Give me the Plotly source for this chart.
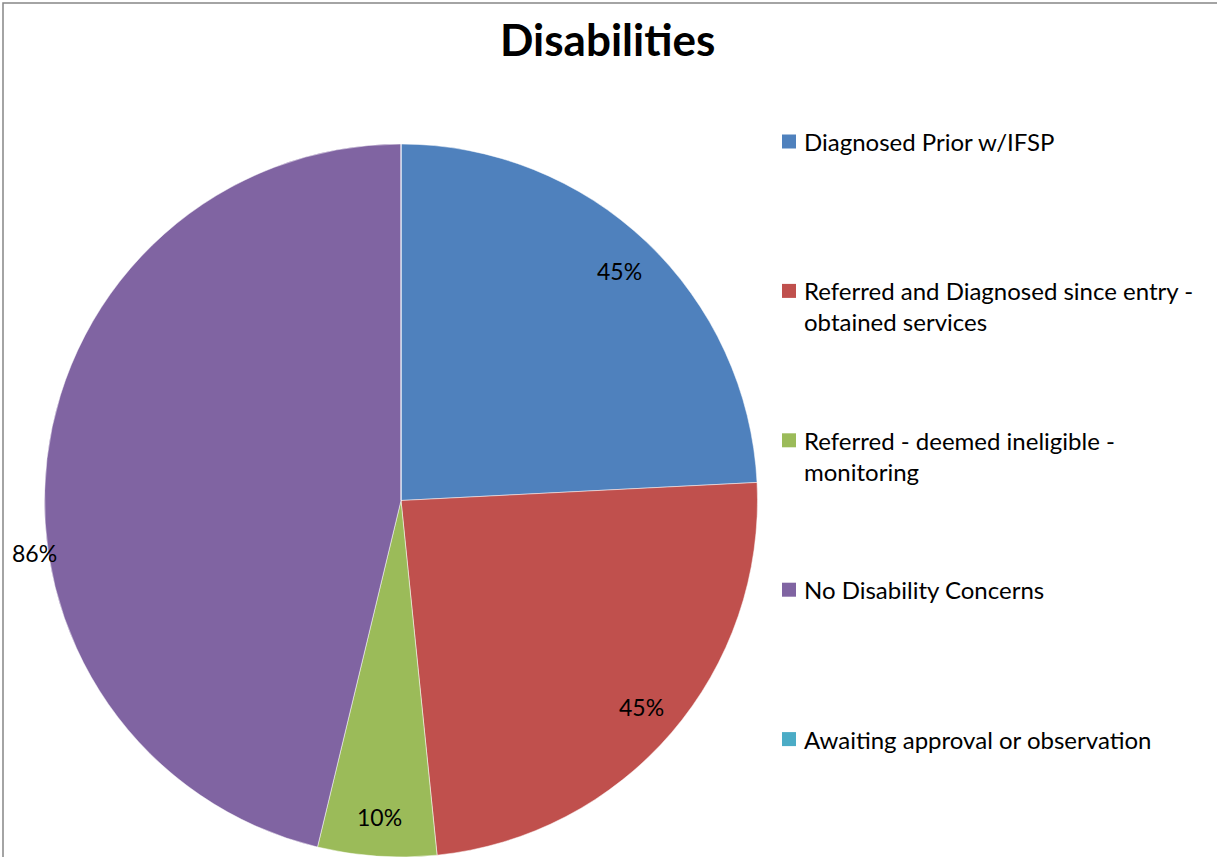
import math
import plotly.graph_objects as go

# Disability status breakdown
categories = [
    "Diagnosed Prior w/IFSP",
    "Referred and Diagnosed since entry -<br>obtained services",
    "Referred - deemed ineligible -<br>monitoring",
    "No Disability Concerns",
    "Awaiting approval or observation",
]
values = [45, 45, 10, 86, 0]
colors = ["#4F81BD", "#C0504D", "#9BBB59", "#8064A2", "#4BACC6"]

W, H = 1217, 857
FONT = "Lato"

# Pie placement (paper fractions)
dom_x = [44 / W, 758 / W]
dom_y = [0.0, 713 / H]
cx = (dom_x[0] + dom_x[1]) / 2 * W
cy = H - (dom_y[0] + dom_y[1]) / 2 * H
radius = min((dom_x[1] - dom_x[0]) * W, (dom_y[1] - dom_y[0]) * H) / 2

fig = go.Figure(
    go.Pie(
        labels=[c.replace("<br>", " ") for c in categories],
        values=values,
        sort=False,
        direction="clockwise",
        rotation=0,
        marker=dict(colors=colors, line=dict(color="white", width=0.5)),
        textinfo="none",
        hoverinfo="label+value",
        domain=dict(x=dom_x, y=dom_y),
        showlegend=False,
    )
)

# Value labels along each slice's mid-angle
total = sum(values)
cum = 0
annotations = []
for i, v in enumerate(values):
    mid = (cum + v / 2) / total * 2 * math.pi
    cum += v
    if v == 0:
        continue
    if i == 3:
        # large slice: label sits just outside the left edge
        px, py = 34, 553
    else:
        k = 0.89
        px = cx + k * radius * math.sin(mid)
        py = cy - k * radius * math.cos(mid)
    annotations.append(
        dict(
            x=px / W, y=1 - py / H, xref="paper", yref="paper",
            text=f"{v}%", showarrow=False,
            xanchor="center", yanchor="middle",
            font=dict(family=FONT, size=23, color="#000000"),
        )
    )

annotations.append(
    dict(
        x=607 / W, y=1 - 39 / H, xref="paper", yref="paper",
        text="<b>Disabilities</b>", showarrow=False,
        xanchor="center", yanchor="middle",
        font=dict(family=FONT, size=44, color="#000000"),
    )
)

# Legend: colour key with evenly spaced entries
LEG_FS = 24
LEG_LH = LEG_FS * 1.3
LEG_TOP = 141.5
LEG_STEP = 149.4
SW = 14
shapes = []
for i, (c, col) in enumerate(zip(categories, colors)):
    yc = LEG_TOP + i * LEG_STEP
    n = c.count("<br>") + 1
    shapes.append(
        dict(
            type="rect", xref="paper", yref="paper",
            x0=782 / W, x1=(782 + SW) / W,
            y0=1 - (yc + SW / 2) / H, y1=1 - (yc - SW / 2) / H,
            fillcolor=col, line=dict(width=0),
        )
    )
    annotations.append(
        dict(
            x=802 / W, y=1 - (yc + (n - 1) * LEG_LH / 2) / H,
            xref="paper", yref="paper",
            text=c, showarrow=False, align="left",
            xanchor="left", yanchor="middle",
            font=dict(family=FONT, size=LEG_FS, color="#000000"),
        )
    )

# Chart-area frame
shapes.append(
    dict(
        type="rect", xref="paper", yref="paper",
        x0=3 / W, x1=1.02, y0=-0.02, y1=1 - 3 / H,
        line=dict(color="#868686", width=1.5),
        fillcolor="rgba(0,0,0,0)", layer="above",
    )
)

fig.update_layout(
    width=W,
    height=H,
    margin=dict(l=0, r=0, t=0, b=0),
    paper_bgcolor="white",
    plot_bgcolor="white",
    font=dict(family=FONT, color="#000000"),
    annotations=annotations,
    shapes=shapes,
    showlegend=False,
)

fig.write_html("out.html")
